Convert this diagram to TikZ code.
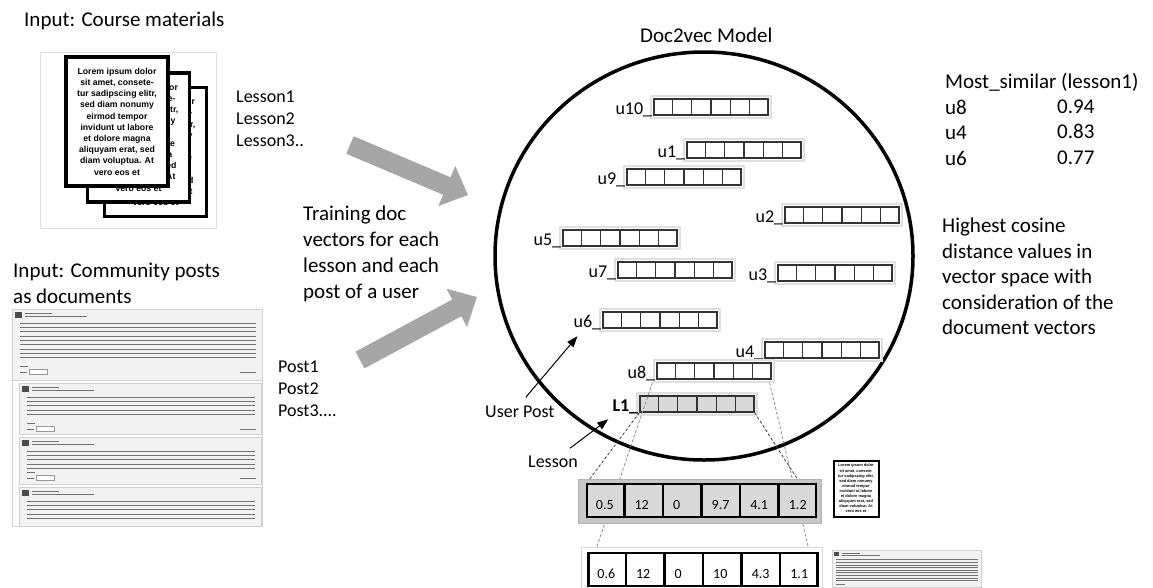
\documentclass[tikz,border=0pt]{standalone}
\usepackage{fontspec}
\setmainfont{Carlito}
\newfontfamily\docfont{Liberation Sans}
\usetikzlibrary{calc,arrows.meta}
\newcommand{\loremtext}{Lorem ipsum dolor\\sit amet, consete-\\tur sadipscing elitr,\\sed diam nonumy\\eirmod tempor\\invidunt ut labore\\et dolore magna\\aliquyam erat, sed\\diam voluptua. At\\vero eos et}

\begin{document}
\begin{tikzpicture}[x=1pt,y=-1pt,
    txt/.style={font=\fontsize{21}{26}\selectfont,inner sep=0,align=left},
    smalltxt/.style={font=\fontsize{18}{22}\selectfont,inner sep=0,align=left},
    vecrow/.style={draw=black!80,line width=1.2pt,minimum width=114pt,minimum height=16pt,inner sep=0},
    cellline/.style={black!80,line width=1.2pt},
    rowshadow/.style={draw=black!12,line width=1.5pt},
    docpage/.style={draw,line width=3.5pt,fill=white,minimum width=102pt,minimum height=129pt,inner sep=0,
      font=\docfont\bfseries\fontsize{8.7}{11.2}\selectfont,align=center},
    fatarrow/.style={gray!70,line width=19pt,-{Triangle[width=42pt,length=23pt]}},
    pointer/.style={line width=1pt,-{Triangle[width=8pt,length=11pt]}},
    valtxt/.style={font=\fontsize{14}{16}\selectfont,inner sep=0,anchor=base west},
    bigcells/.style={draw,line width=2.5pt,inner sep=0,minimum width=229pt,minimum height=33pt},
    zoomline/.style={dash pattern=on 3pt off 2pt,line width=0.8pt},
    textline/.style={black!55,line width=1pt}]
  \fill[white] (0,0) rectangle (1153,587);
  \useasboundingbox (0,0) rectangle (1153,587);

  % course materials
  \node[txt,anchor=base west] (incourse) at (24,26) {Input: Course materials};
  \draw[black!12] (40,52) rectangle (216,228);
  \node[docpage] (page3) at (155.5,152) {\loremtext};
  \node[docpage] (page2) at (138.5,137.5) {\loremtext};
  \node[docpage] (page1) at (117,121.5) {\loremtext};
  \node[smalltxt,anchor=north west] (lessons) at (236,91) {Lesson1\\Lesson2\\Lesson3..};

  % community posts
  \node[txt,anchor=north west] (inposts) at (13,263) {Input: Community posts\\as documents};
  \draw[black!18] (12,309) rectangle (262,526);
  \foreach \px/\py/\w/\h/\n in {12/309/250/71/9, 19/383/242/51/5, 19/437/242/47/5, 19/487/242/39/5} {
    \draw[black!18,fill=black!5] (\px,\py) rectangle (\px+\w,\py+\h);
    \fill[black!70] (\px+3,\py+3) rectangle (\px+10,\py+9);
    \draw[textline] (\px+13,\py+4) -- (\px+40,\py+4);
    \draw[textline] (\px+13,\py+7.5) -- (\px+75,\py+7.5);
    \foreach \i in {1,...,\n}
      \draw[textline] (\px+8,\py+10+\i*4.3) -- (\px+\w-6,\py+10+\i*4.3);
  }
  \foreach \ry/\rx in {372/20, 429/27, 478/27} {
    \draw[textline] (\rx,\ry-6) -- (\rx+8,\ry-6);
    \draw[textline] (\rx,\ry) -- (\rx+7,\ry);
    \draw[black!40,fill=white] (\rx+9,\ry-3) rectangle (\rx+27,\ry+2);
    \draw[textline] (240,\ry) -- (256,\ry);
  }
  \node[smalltxt,anchor=north west] (posts) at (278,361) {Post1\\Post2\\Post3....};

  % training arrows
  \node[txt,anchor=north west] (training) at (303,206) {Training doc\\vectors for each\\lesson and each\\post of a user};
  \coordinate (lessontail) at (350,145);
  \coordinate (lessontip) at (468,195);
  \coordinate (posttail) at (360,360);
  \coordinate (posttip) at (477,297);
  \draw[fatarrow] (lessontail) -- (lessontip);
  \draw[fatarrow] (posttail) -- (posttip);

  % model
  \node[txt,anchor=base west] (modeltitle) at (640,42) {Doc2vec Model};
  \draw[line width=3.5pt] (704,256) ellipse [x radius=209pt,y radius=204pt];
  \foreach \n/\x/\y/\lab/\fc/\sc in {u10/654/107/u10\_/white/white, u1/687/150/u1\_/white/white,
      u9/627/177/u9\_/white/white, u2/785/215/u2\_/white/white, u5/563/238/u5\_/white/white,
      u7/618/270/u7\_/white/white, u3/778/273/u3\_/white/white, u6/603/320/u6\_/white/white,
      u4/765/350/u4\_/white/white, u8/657/371/u8\_/white/white, L1/640/404/\textbf{L1\_}/black!15/black!8} {
    \draw[rowshadow,fill=\sc] (\x-3,\y-11) rectangle (\x+117,\y+11);
    \node[vecrow,fill=\fc] (\n) at (\x+57,\y) {};
    \foreach \k in {1,...,5}
      \draw[cellline] ($(\n.north west)!\k/6!(\n.north east)$) -- ($(\n.south west)!\k/6!(\n.south east)$);
    \node[smalltxt,anchor=base east] (\n-lab) at ($(\n.south west)+(-1,-1)$) {\lab};
  }

  \node[smalltxt,anchor=base west] (userpost) at (485,417) {User Post};
  \draw[pointer] ($(userpost.north)+(6,-8)$) -- ($(u6-lab.south west)+(4,6)$);
  \node[smalltxt,anchor=base west] (lessonlab) at (528,467) {Lesson};
  \draw[pointer] ($(lessonlab.north east)+(-8,-7)$) -- ($(L1-lab.south west)+(-4,5)$);

  % zoomed vectors
  \node[draw=black!15,fill=white,minimum width=241pt,minimum height=42pt,inner sep=0] (pvframe) at (701.5,568) {};
  \node[bigcells,fill=white] (pvcells) at (703,569.5) {};
  \foreach \k in {1,...,5}
    \draw[line width=2.5pt] ($(pvcells.north west)!\k/6!(pvcells.north east)$) -- ($(pvcells.south west)!\k/6!(pvcells.south east)$);
  \foreach \v [count=\k from 0] in {0.6,12,0,10,4.3,1.1}
    \node[valtxt] (pv\k) at ($(pvcells.south west)!\k/6!(pvcells.south east)+(10,-9)$) {\v};
  \draw[zoomline,black!45] ($(u8.south west)+(-4,3)$) -- ($(pvframe.north west)+(16,0)$);
  \draw[zoomline,black!45] ($(u8.south east)+(-2,3)$) -- ($(pvframe.north east)+(-14,0)$);

  \node[draw=black!30,fill=black!22,minimum width=243pt,minimum height=44pt,inner sep=0] (lvframe) at (699.5,501) {};
  \node[bigcells,fill=black!15] (lvcells) at (701.5,500.5) {};
  \foreach \k in {1,...,5}
    \draw[line width=2.5pt] ($(lvcells.north west)!\k/6!(lvcells.north east)$) -- ($(lvcells.south west)!\k/6!(lvcells.south east)$);
  \foreach \v [count=\k from 0] in {0.5,12,0,9.7,4.1,1.2}
    \node[valtxt] (lv\k) at ($(lvcells.south west)!\k/6!(lvcells.south east)+(10,-9)$) {\v};
  \draw[zoomline,black!75] (L1.south west) -- ($(lvframe.north west)+(12,0)$);
  \draw[zoomline,black!75] (L1.south east) -- ($(lvframe.north east)+(-24,0)$);

  % small source documents
  \node[draw,line width=2pt,fill=white,minimum width=45pt,minimum height=56pt,inner sep=0,
    font=\docfont\bfseries\fontsize{3.9}{5.1}\selectfont,align=center] (lessondoc) at (856,488.5) {\loremtext};
  \draw[black!18,fill=black!5] (832,550) rectangle (981,587);
  \fill[black!70] (834,552) rectangle (839,556);
  \draw[textline,line width=0.5pt] (842,553) -- (860,553);
  \draw[textline,line width=0.5pt] (842,555.5) -- (880,555.5);
  \foreach \i in {1,...,9}
    \draw[textline,line width=0.6pt] (836,557+\i*2.6) -- (978,557+\i*2.6);
  \draw[textline,line width=0.6pt] (836,584) -- (845,584);

  % results
  \node[txt,anchor=north west,font=\fontsize{21}{25.5}\selectfont] (simhead) at (945,73) {Most\_similar (lesson1)\\u8\\u4\\u6};
  \node[txt,anchor=north west,font=\fontsize{21}{25.5}\selectfont] (simvals) at (1057,99.5) {0.94\\0.83\\0.77};
  \node[txt,anchor=north west,font=\fontsize{21}{25.5}\selectfont] (cosine) at (942,218) {Highest cosine\\distance values in\\vector space with\\consideration of the\\document vectors};
\end{tikzpicture}
\end{document}
